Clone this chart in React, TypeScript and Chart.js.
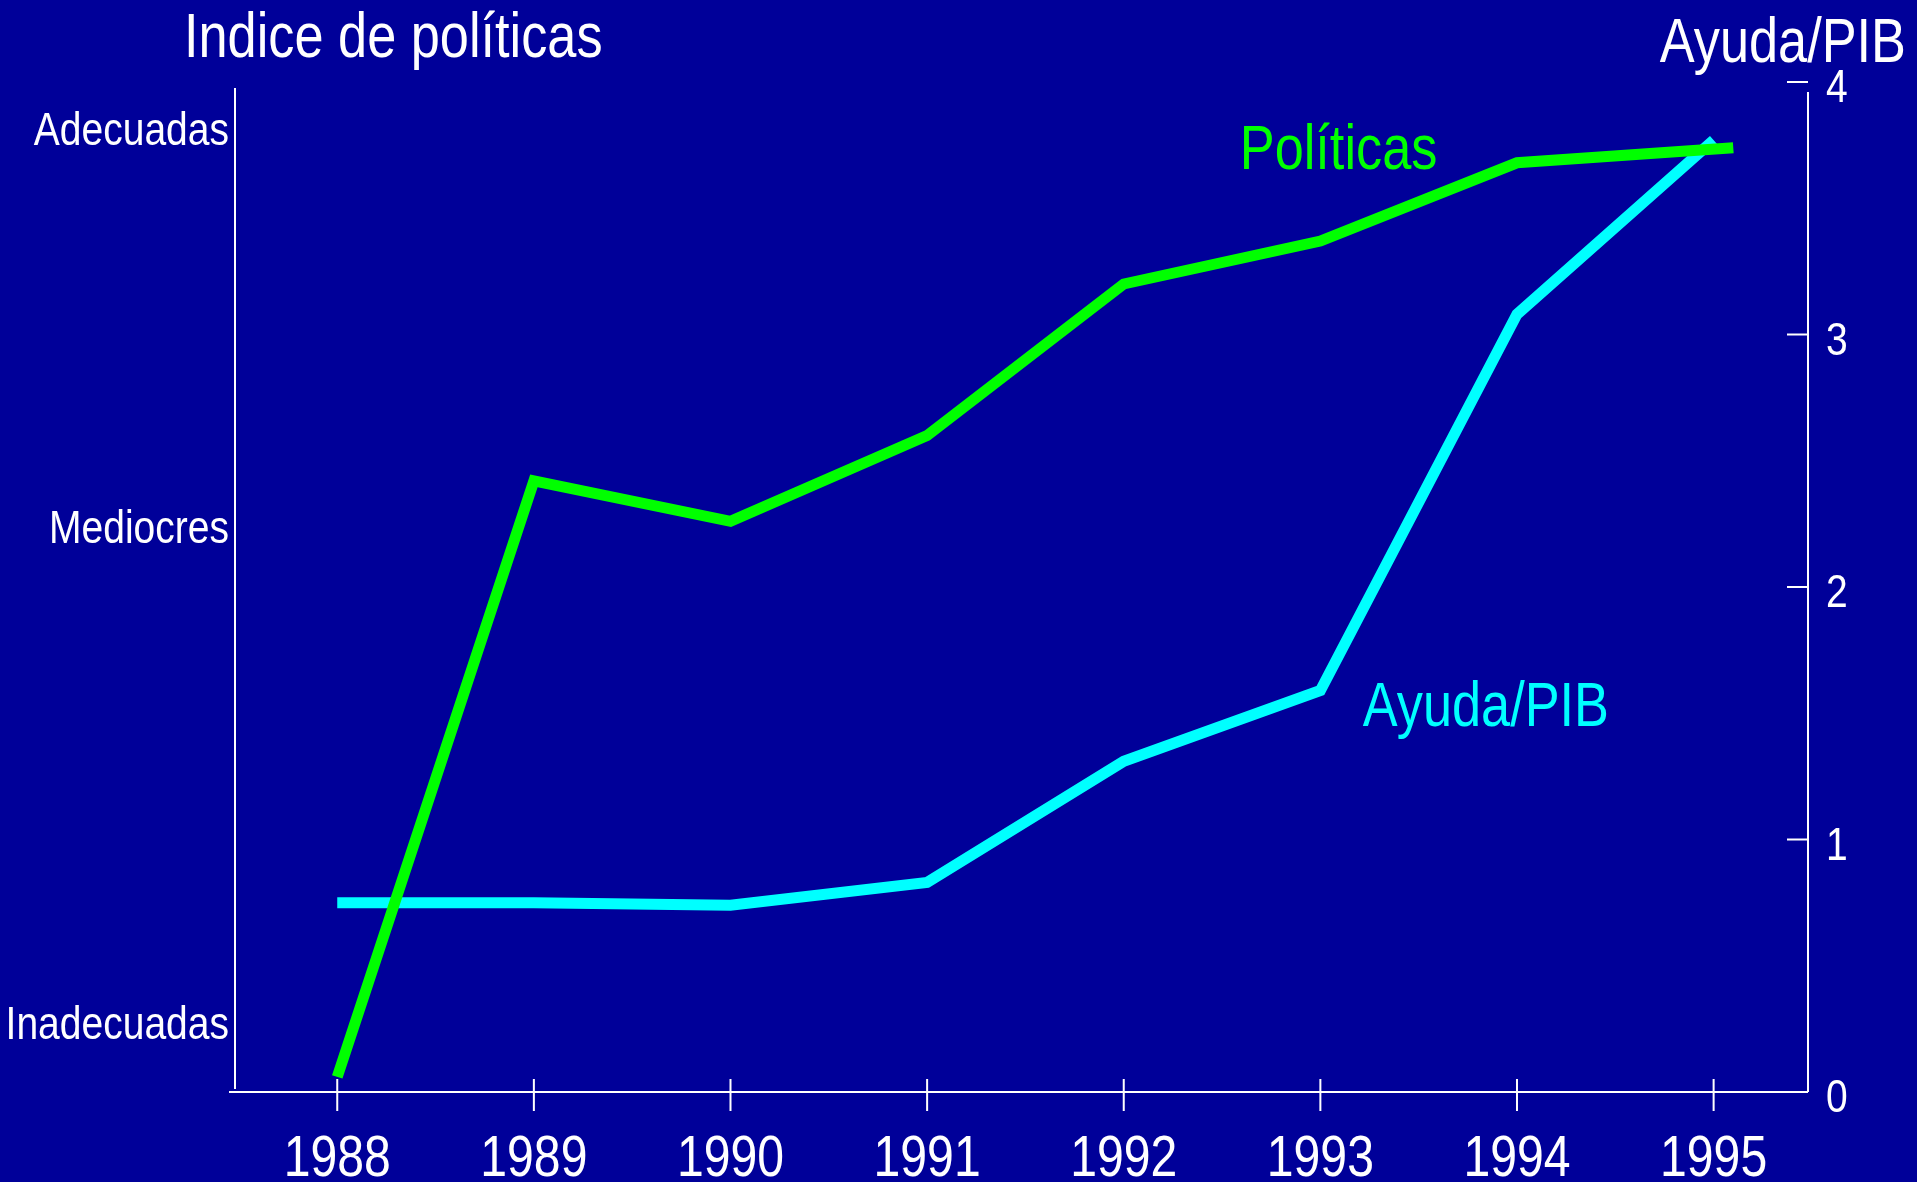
import React, { useEffect, useRef } from 'react';
import { Chart, registerables } from 'chart.js';

Chart.register(...registerables);

// ---- data ----
const years = [1988, 1989, 1990, 1991, 1992, 1993, 1994, 1995];
const politicasYears = [1988, 1989, 1990, 1991, 1992, 1993, 1994, 1995.1];
const politicas = [0.06, 2.42, 2.26, 2.6, 3.2, 3.37, 3.68, 3.74];
const ayudaYears = [1988, 1989, 1990, 1991, 1992, 1993, 1994, 1995];
const ayudaPib = [0.75, 0.75, 0.74, 0.83, 1.31, 1.59, 3.08, 3.77];
const policyLevels = [0.276, 2.24, 3.816];
const policyLabels = ['Inadecuadas', 'Mediocres', 'Adecuadas'];
const ayudaTicks = [0, 1, 2, 3, 4];
const yearLabels = ['1988', '1989', '1990', '1991', '1992', '1993', '1994', '1995'];

const leftTitle = 'Indice de políticas';
const rightTitle = 'Ayuda/PIB';
const politicasNote = 'Políticas';
const ayudaNote = 'Ayuda/PIB';

const BG = '#000099';
const GREEN = '#00ff00';
const CYAN = '#00ffff';
const WHITE = '#ffffff';
const FONT = "'Liberation Sans', Arial, sans-serif";
const SX = 0.83; // horizontal condensation (narrow face)

function narrowText(
  ctx: CanvasRenderingContext2D,
  text: string,
  x: number,
  y: number,
  size: number,
  color: string,
  align: 'left' | 'right' | 'center',
) {
  ctx.save();
  ctx.font = `${size}px ${FONT}`;
  ctx.fillStyle = color;
  ctx.textBaseline = 'alphabetic';
  ctx.textAlign = 'left';
  const w = ctx.measureText(text).width * SX;
  const left = align === 'left' ? x : align === 'right' ? x - w : x - w / 2;
  ctx.translate(left, y);
  ctx.scale(SX, 1);
  ctx.fillText(text, 0, 0);
  ctx.restore();
}

const decoPlugin = {
  id: 'deco',
  beforeDraw(chart: any) {
    const { ctx, width, height } = chart;
    ctx.save();
    ctx.fillStyle = BG;
    ctx.fillRect(0, 0, width, height);
    ctx.restore();
  },
  beforeDatasetsDraw(chart: any) {
    const { ctx, chartArea } = chart;
    const x = chart.scales.x;
    const yR = chart.scales.yR;
    const { left, right, top, bottom } = chartArea;
    ctx.save();
    ctx.strokeStyle = WHITE;
    ctx.lineWidth = 2;
    ctx.beginPath();
    ctx.moveTo(left, top + 6);
    ctx.lineTo(left, bottom - 3);
    ctx.moveTo(left - 6, bottom);
    ctx.lineTo(right, bottom);
    ctx.moveTo(right, top + 10);
    ctx.lineTo(right, bottom);
    years.forEach((yr) => {
      const px = x.getPixelForValue(yr);
      ctx.moveTo(px, bottom - 13);
      ctx.lineTo(px, bottom + 19);
    });
    ayudaTicks.forEach((v) => {
      const py = yR.getPixelForValue(v);
      ctx.moveTo(right - 21, py);
      ctx.lineTo(right, py);
    });
    ctx.stroke();
    ctx.restore();
  },
  afterDraw(chart: any) {
    const { ctx, chartArea } = chart;
    const x = chart.scales.x;
    const yL = chart.scales.yL;
    const yR = chart.scales.yR;
    narrowText(ctx, leftTitle, 184, 57, 63, WHITE, 'left');
    narrowText(ctx, rightTitle, 1906, 62, 63, WHITE, 'right');
    narrowText(ctx, politicasNote, x.getPixelForValue(1992.59), yR.getPixelForValue(3.655), 63, GREEN, 'left');
    narrowText(ctx, ayudaNote, x.getPixelForValue(1993.216), yR.getPixelForValue(1.4495), 63, CYAN, 'left');
    policyLevels.forEach((v, i) => {
      narrowText(ctx, policyLabels[i], chartArea.left - 6, yL.getPixelForValue(v) + 17, 47, WHITE, 'right');
    });
    ayudaTicks.forEach((v) => {
      narrowText(ctx, String(v), chartArea.right + 18, yR.getPixelForValue(v) + 20, 47, WHITE, 'left');
    });
    years.forEach((yr, i) => {
      narrowText(ctx, yearLabels[i], x.getPixelForValue(yr), 1176, 58, WHITE, 'center');
    });
  },
};

export default function App() {
  const ref = useRef<HTMLCanvasElement | null>(null);

  useEffect(() => {
    document.body.style.margin = '0';
    document.body.style.background = BG;
    const canvas = ref.current;
    if (!canvas) return;
    const chart = new Chart(canvas, {
      type: 'line',
      data: {
        datasets: [
          {
            label: 'Políticas',
            data: politicasYears.map((yr, i) => ({ x: yr, y: politicas[i] })),
            borderColor: GREEN,
            backgroundColor: GREEN,
            borderWidth: 11,
            pointRadius: 0,
            borderCapStyle: 'butt',
            borderJoinStyle: 'miter',
            tension: 0,
            yAxisID: 'yL',
            xAxisID: 'x',
          },
          {
            label: 'Ayuda/PIB',
            data: ayudaYears.map((yr, i) => ({ x: yr, y: ayudaPib[i] })),
            borderColor: CYAN,
            backgroundColor: CYAN,
            borderWidth: 11,
            pointRadius: 0,
            borderCapStyle: 'butt',
            borderJoinStyle: 'miter',
            tension: 0,
            yAxisID: 'yR',
            xAxisID: 'x',
          },
        ],
      },
      options: {
        responsive: false,
        animation: false,
        devicePixelRatio: 1,
        layout: { padding: { top: 82, left: 0, right: 0, bottom: 0 } },
        plugins: {
          legend: { display: false },
          tooltip: { enabled: false },
          title: { display: false },
        },
        scales: {
          x: {
            type: 'linear',
            position: 'bottom',
            min: 1987.48,
            max: 1995.48,
            grid: { display: false, drawTicks: false },
            border: { display: false },
            ticks: { display: false },
            afterBuildTicks: (scale: any) => {
              scale.ticks = years.map((v) => ({ value: v }));
            },
            afterFit: (scale: any) => {
              scale.height = 90;
            },
          },
          yL: {
            type: 'linear',
            position: 'left',
            min: 0,
            max: 4,
            grid: { display: false, drawTicks: false },
            border: { display: false },
            ticks: { display: false },
            afterBuildTicks: (scale: any) => {
              scale.ticks = policyLevels.map((v) => ({ value: v }));
            },
            afterFit: (scale: any) => {
              scale.width = 235;
            },
          },
          yR: {
            type: 'linear',
            position: 'right',
            min: 0,
            max: 4,
            grid: { display: false, drawTicks: false },
            border: { display: false },
            ticks: { display: false },
            afterBuildTicks: (scale: any) => {
              scale.ticks = ayudaTicks.map((v) => ({ value: v }));
            },
            afterFit: (scale: any) => {
              scale.width = 109;
            },
          },
        },
      } as any,
      plugins: [decoPlugin],
    });
    return () => chart.destroy();
  }, []);

  return (
    <div style={{ position: 'fixed', left: 0, top: 0, width: 1917, height: 1182, background: BG }}>
      <canvas ref={ref} width={1917} height={1182} style={{ display: 'block', width: 1917, height: 1182 }} />
    </div>
  );
}
